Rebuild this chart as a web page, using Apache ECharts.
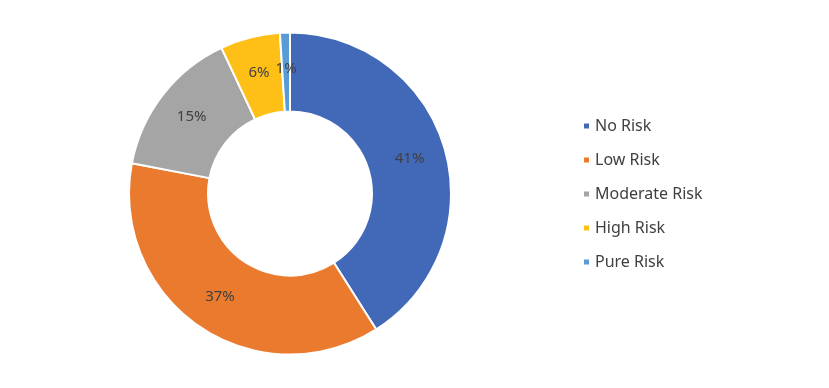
<!DOCTYPE html>
<html>
<head>
<meta charset="utf-8">
<script src="https://cdn.jsdelivr.net/npm/echarts@6/dist/echarts.min.js"></script>
<style>
html,body{margin:0;padding:0;background:#fff;}
#chart{width:829px;height:388px;}
</style>
</head>
<body>
<div id="chart"></div>
<script>
const categories = ['No Risk', 'Low Risk', 'Moderate Risk', 'High Risk', 'Pure Risk'];
const values = [41, 37, 15, 6, 1];
const colors = ['#4169B8', '#E97A2E', '#A5A5A5', '#FEBF17', '#5B9BD5'];

const chart = echarts.init(document.getElementById('chart'), null, {renderer: 'canvas'});
chart.setOption({
  animation: false,
  color: colors,
  legend: {
    orient: 'vertical',
    left: 577,
    top: 'middle',
    itemWidth: 7,
    itemHeight: 7,
    itemGap: 16,
    icon: 'rect',
    data: categories,
    textStyle: {fontFamily: 'Noto Sans', fontSize: 16, color: '#404040', lineHeight: 18}
  },
  series: [{
    type: 'pie',
    center: [290, 193.5],
    radius: [82, 161],
    startAngle: 90,
    clockwise: true,
    avoidLabelOverlap: false,
    itemStyle: {borderColor: '#fff', borderWidth: 2},
    label: {
      show: true,
      position: 'inside',
      formatter: '{c}%',
      fontFamily: 'Noto Sans',
      fontSize: 15,
      color: '#404040'
    },
    labelLine: {show: false},
    data: categories.map((c, i) => ({name: c, value: values[i]}))
  }]
});
</script>
</body>
</html>
